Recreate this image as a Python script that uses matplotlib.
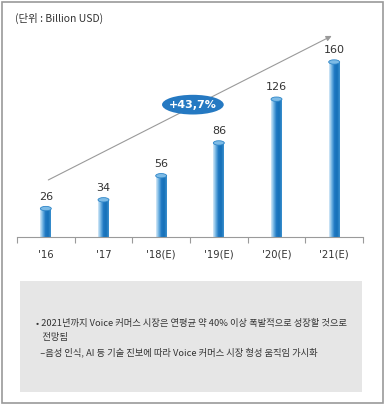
import numpy as np
import matplotlib
matplotlib.use("Agg")
import matplotlib.pyplot as plt
from matplotlib.colors import LinearSegmentedColormap
from matplotlib.patches import Ellipse, Rectangle

plt.rcParams['font.family'] = ['Noto Sans CJK KR', 'DejaVu Sans']

years = ["'16", "'17", "'18(E)", "'19(E)", "'20(E)", "'21(E)"]
values = [26, 34, 56, 86, 126, 160]
cagr_label = "+43,7%"
unit_label = "(단위 : Billion USD)"
notes = ["• 2021년까지 Voice 커머스 시장은 연평균 약 40% 이상 폭발적으로 성장할 것으로",
         "   전망됨",
         "  –음성 인식, AI 등 기술 진보에 따라 Voice 커머스 시장 형성 움직임 가시화"]

W, H = 385, 405
fig = plt.figure(figsize=(W / 100, H / 100), dpi=100)

# background / frame
bg = fig.add_axes([0, 0, 1, 1])
bg.set_xlim(0, W)
bg.set_ylim(H, 0)
bg.axis('off')
bg.add_patch(Rectangle((1.5, 1.5), W - 4, H - 4, fill=False, ec='#9a9a9a', lw=1.2))
bg.add_patch(Rectangle((20, 281), 342, 111, fc='#e6e6e6', ec='none'))
bg.text(15, 18, unit_label, fontsize=7.5, color='#333333', va='center', ha='left')
for i, line in enumerate(notes):
    bg.text(36, 323 + i * 14.5, line, fontsize=6.7, color='#333333', va='center', ha='left')

# chart axes: baseline at y=237px, 200 px tall
ax = fig.add_axes([17 / W, (H - 237) / H, 346 / W, 200 / H])
ymax = 200 * 160 / 175
x = np.arange(len(values))
bw = 0.19

cmap = LinearSegmentedColormap.from_list('bar', ['#d6eaf8', '#6fb2e2', '#1e78c2', '#1670b8', '#3a8fce'])
grad = np.linspace(0, 1, 64).reshape(1, -1)
for xi, v in zip(x, values):
    ax.imshow(grad, cmap=cmap, aspect='auto', extent=(xi - bw / 2, xi + bw / 2, 0, v), zorder=2)
    ax.add_patch(Ellipse((xi, v), bw, 4.0, fc='#7dbbe6', ec='#2f86c8', lw=0.6, zorder=3))
    ax.annotate(str(v), (xi, v), xytext=(0, 5), textcoords='offset points',
                ha='center', va='bottom', fontsize=8, color='#333333', family='DejaVu Sans')

# growth arrow and badge
ax.annotate('', xy=(5.0, 185), xytext=(0.0, 51),
            arrowprops=dict(arrowstyle='-|>', color='#9a9a9a', lw=0.8, mutation_scale=8),
            annotation_clip=False, zorder=1)
ax.add_patch(Ellipse((2.55, 121), 1.07, 18, fc='#2579c2', ec='none', zorder=4, clip_on=False))
ax.text(2.55, 121, cagr_label, ha='center', va='center', fontsize=8, color='white',
        fontweight='bold', zorder=5, family='DejaVu Sans')

ax.set_xlim(-0.5, 5.5)
ax.set_ylim(0, ymax)
ax.set_xticks(x)
ax.set_xticklabels(years, fontsize=7.2, color='#333333', family='DejaVu Sans')
ax.set_xticks(np.arange(-0.5, 6, 1), minor=True)
ax.tick_params(axis='x', which='major', length=0, pad=9)
ax.tick_params(axis='x', which='minor', length=4.5, color='#9a9a9a', width=0.8)
ax.set_yticks([])
for s in ['top', 'right', 'left']:
    ax.spines[s].set_visible(False)
ax.spines['bottom'].set_color('#9a9a9a')
ax.spines['bottom'].set_linewidth(0.8)
ax.patch.set_alpha(0)

fig.savefig('out.png', dpi=100)
